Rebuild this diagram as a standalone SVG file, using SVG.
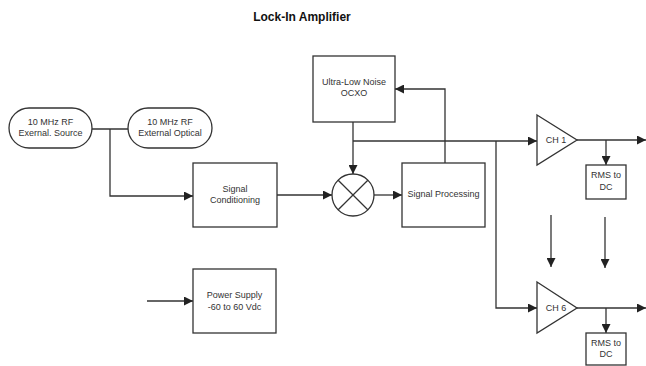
<svg xmlns="http://www.w3.org/2000/svg" width="646" height="366" viewBox="0 0 646 366">
<defs>
<marker id="ah" viewBox="0 0 10 10" refX="10" refY="5" markerWidth="9" markerHeight="9" markerUnits="userSpaceOnUse" orient="auto">
<path d="M0,0 L10,5 L0,10 Z" fill="#222"/>
</marker>
<style>
.box{fill:#fff;stroke:#333;stroke-width:1.3}
.ln{fill:none;stroke:#333;stroke-width:1.3}
.t{font-family:"Liberation Sans",Arial,sans-serif;font-size:9px;fill:#333;text-anchor:middle}
.title{font-family:"Liberation Sans",Arial,sans-serif;font-size:12px;font-weight:bold;fill:#111;text-anchor:middle}
</style>
</defs>
<rect width="646" height="366" fill="#fff"/>
<text class="title" x="302" y="21">Lock-In Amplifier</text>
<g id="connectors">
<path class="ln" d="M92,129 H128"/>
<path class="ln" d="M110,129 V196 H193" marker-end="url(#ah)"/>
<path class="ln" d="M277,195 H332" marker-end="url(#ah)"/>
<path class="ln" d="M374,195 H402" marker-end="url(#ah)"/>
<path class="ln" d="M353,122 V174" marker-end="url(#ah)"/>
<path class="ln" d="M445,163 V89 H395" marker-end="url(#ah)"/>
<path class="ln" d="M353,141 H537" marker-end="url(#ah)"/>
<path class="ln" d="M496,141 V308 H537" marker-end="url(#ah)"/>
<path class="ln" d="M577,140 H646" marker-end="url(#ah)"/>
<path class="ln" d="M606,140 V165" marker-end="url(#ah)"/>
<path class="ln" d="M577,308 H646" marker-end="url(#ah)"/>
<path class="ln" d="M606,308 V333" marker-end="url(#ah)"/>
<path class="ln" d="M551,215 V267" marker-end="url(#ah)"/>
<path class="ln" d="M605,217 V268" marker-end="url(#ah)"/>
<path class="ln" d="M147,301 H193" marker-end="url(#ah)"/>
</g>
<g id="ext-source">
<rect class="box" x="9" y="108" width="83" height="40" rx="20"/>
<text class="t" x="50.5" y="125">10 MHz RF</text>
<text class="t" x="50.5" y="136">Exernal. Source</text>
</g>
<g id="ext-optical">
<rect class="box" x="128" y="108" width="84" height="40" rx="20"/>
<text class="t" x="170" y="125">10 MHz RF</text>
<text class="t" x="170" y="136">External Optical</text>
</g>
<g id="signal-conditioning">
<rect class="box" x="193" y="163" width="84" height="64"/>
<text class="t" x="235" y="192">Signal</text>
<text class="t" x="235" y="203">Conditioning</text>
</g>
<g id="ocxo">
<rect class="box" x="313" y="56" width="82" height="66"/>
<text class="t" x="354" y="85">Ultra-Low Noise</text>
<text class="t" x="354" y="96">OCXO</text>
</g>
<g id="mixer">
<circle class="box" cx="353" cy="195" r="21"/>
<path class="ln" d="M338.2,180.2 L367.8,209.8 M367.8,180.2 L338.2,209.8"/>
</g>
<g id="signal-processing">
<rect class="box" x="402" y="163" width="83" height="64"/>
<text class="t" x="443.5" y="197">Signal Processing</text>
</g>
<g id="ch1">
<path class="box" d="M537,115 L577,140 L537,165 Z"/>
<text class="t" x="556" y="143">CH 1</text>
</g>
<g id="rms1">
<rect class="box" x="586" y="165" width="40" height="34"/>
<text class="t" x="606" y="178">RMS to</text>
<text class="t" x="606" y="190">DC</text>
</g>
<g id="ch6">
<path class="box" d="M537,282 L577,308 L537,333 Z"/>
<text class="t" x="556" y="311">CH 6</text>
</g>
<g id="rms6">
<rect class="box" x="586" y="333" width="40" height="32"/>
<text class="t" x="606" y="346">RMS to</text>
<text class="t" x="606" y="357">DC</text>
</g>
<g id="power-supply">
<rect class="box" x="193" y="269" width="83" height="64"/>
<text class="t" x="234.5" y="298">Power Supply</text>
<text class="t" x="234.5" y="310">-60 to 60 Vdc</text>
</g>
</svg>
